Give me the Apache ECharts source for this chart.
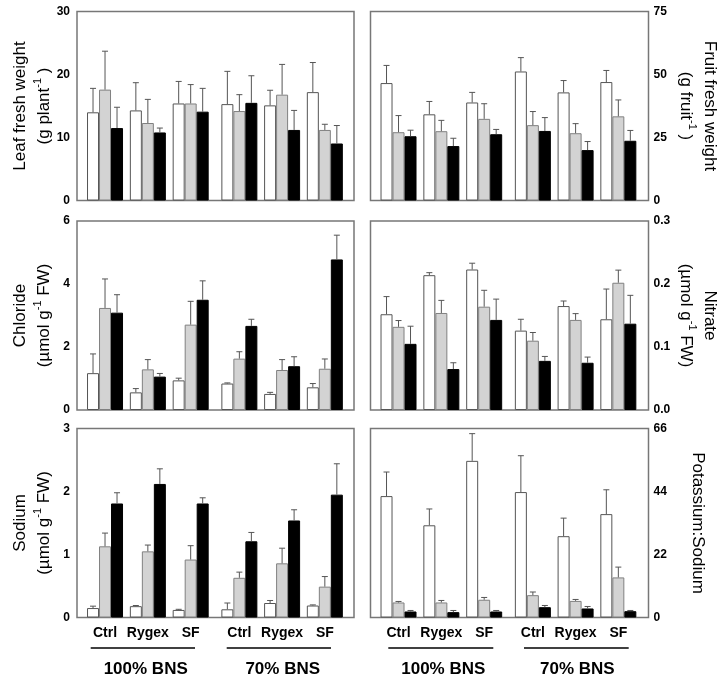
<!DOCTYPE html>
<html>
<head>
<meta charset="utf-8">
<script src="https://cdn.jsdelivr.net/npm/echarts@6/dist/echarts.min.js"></script>
<style>
  html, body { margin: 0; padding: 0; background: #fff; }
  #chart { width: 728px; height: 682px; }
</style>
</head>
<body>
<div id="chart"></div>
<script>
// categories (two nutrient solution levels x three treatments)
const groups = ['Ctrl', 'Rygex', 'SF', 'Ctrl', 'Rygex', 'SF']
const levels = ['100% BNS', '70% BNS']

// values: [white, gray, black] bars, se = upper error bar
const leafMean = [
  [14.0, 14.3, 15.4, 15.3, 15.1, 17.2],
  [17.6, 12.3, 15.4, 14.2, 16.8, 11.2],
  [11.5, 10.8, 14.1, 15.5, 11.2, 9.05]
]
const leafSe = [
  [3.8, 4.4, 3.5, 5.2, 2.4, 4.7],
  [6.1, 3.75, 3.0, 2.6, 4.8, 0.9],
  [3.3, 0.7, 3.7, 4.3, 3.1, 2.85]
]
const fruitMean = [
  [46.6, 34.2, 38.9, 51.2, 42.9, 47.0],
  [27.1, 27.5, 32.4, 29.9, 26.7, 33.4],
  [25.5, 21.6, 26.3, 27.6, 20.0, 23.7]
]
const fruitSe = [
  [7.0, 5.1, 4.0, 5.5, 4.7, 4.6],
  [6.6, 4.3, 6.0, 5.4, 3.8, 6.5],
  [2.4, 3.1, 1.9, 5.3, 3.4, 4.1]
]
const chlorideMean = [
  [1.17, 0.56, 0.94, 0.84, 0.51, 0.72],
  [3.24, 1.29, 2.71, 1.63, 1.27, 1.31],
  [3.09, 1.06, 3.5, 2.67, 1.39, 4.78]
]
const chlorideSe = [
  [0.61, 0.12, 0.07, 0.02, 0.05, 0.12],
  [0.92, 0.31, 0.74, 0.22, 0.33, 0.31],
  [0.57, 0.10, 0.6, 0.21, 0.3, 0.77]
]
const nitrateMean = [
  [0.152, 0.214, 0.223, 0.126, 0.165, 0.144],
  [0.132, 0.154, 0.164, 0.110, 0.143, 0.202],
  [0.105, 0.065, 0.143, 0.078, 0.075, 0.137]
]
const nitrateSe = [
  [0.028, 0.004, 0.010, 0.018, 0.008, 0.048],
  [0.010, 0.020, 0.026, 0.013, 0.010, 0.020],
  [0.028, 0.010, 0.033, 0.007, 0.009, 0.045]
]
const sodiumMean = [
  [0.15, 0.18, 0.12, 0.13, 0.23, 0.19],
  [1.13, 1.05, 0.92, 0.63, 0.86, 0.49],
  [1.81, 2.12, 1.81, 1.21, 1.54, 1.95]
]
const sodiumSe = [
  [0.03, 0.01, 0.01, 0.10, 0.04, 0.01],
  [0.21, 0.10, 0.22, 0.09, 0.24, 0.16],
  [0.17, 0.24, 0.09, 0.14, 0.17, 0.49]
]
const ratioMean = [
  [42.4, 32.2, 54.7, 43.8, 28.4, 36.1],
  [5.25, 5.25, 6.2, 7.8, 5.8, 14.0],
  [2.1, 1.87, 2.1, 3.6, 3.15, 2.2]
]
const ratioSe = [
  [8.4, 5.7, 9.5, 12.7, 6.3, 8.5],
  [0.35, 0.7, 0.8, 1.1, 0.5, 3.6],
  [0.35, 0.58, 0.35, 0.6, 0.7, 0.25]
]

const FONT = '"Liberation Sans", Arial, sans-serif'
const sup = '{s|-1}'
const panels = [
  { mean: leafMean, se: leafSe, max: 30, step: 10, side: 'left', row: 0,
    name: '{t|Leaf fresh weight}\n{t|(g plant}' + sup + '{t| )}' },
  { mean: fruitMean, se: fruitSe, max: 75, step: 25, side: 'right', row: 0,
    name: '{t|Fruit fresh weight}\n{t|(g fruit}' + sup + '{t| )}' },
  { mean: chlorideMean, se: chlorideSe, max: 6, step: 2, side: 'left', row: 1,
    name: '{t|Chloride}\n{t|(µmol g}' + sup + '{t| FW)}' },
  { mean: nitrateMean, se: nitrateSe, max: 0.3, step: 0.1, side: 'right', row: 1, fixed: 1,
    name: '{t|Nitrate}\n{t|(µmol g}' + sup + '{t| FW)}' },
  { mean: sodiumMean, se: sodiumSe, max: 3, step: 1, side: 'left', row: 2,
    name: '{t|Sodium}\n{t|(µmol g}' + sup + '{t| FW)}' },
  { mean: ratioMean, se: ratioSe, max: 66, step: 22, side: 'right', row: 2, gap: 37,
    name: '{t|Potassium:Sodium}' }
]

const rowTop = [11.5, 221, 428.5]
const rowH = 189
const colLeft = { left: 77, right: 370.5 }
const colW = { left: 277, right: 278 }
// the two treatment blocks inside each frame (offset from frame left, width)
const blocks = [{ dx: 6.6, w: 128.5 }, { dx: 141, w: 128.2 }]
const fills = ['#ffffff', '#d3d3d3', '#000000']
const borders = ['#555555', '#808080', '#000000']
const BAR_W = 12

function errorBar (offset) {
  return function (params, api) {
    const x = api.value(0)
    const m = api.value(1)
    const e = api.value(2)
    const p0 = api.coord([x, m])
    const p1 = api.coord([x, m + e])
    const cx = p0[0] + offset
    return {
      type: 'group',
      children: [
        { type: 'line', shape: { x1: cx, y1: p0[1], x2: cx, y2: p1[1] }, style: { stroke: '#555', lineWidth: 1 } },
        { type: 'line', shape: { x1: cx - 3, y1: p1[1], x2: cx + 3, y2: p1[1] }, style: { stroke: '#555', lineWidth: 1 } }
      ]
    }
  }
}

const grid = []
const xAxis = []
const yAxis = []
const series = []
const graphic = []

panels.forEach((p) => {
  const top = rowTop[p.row]
  const left = colLeft[p.side]
  const w = colW[p.side]
  const right = p.side === 'right'
  // frame with the labelled y axis
  const fi = grid.length
  grid.push({ left: left, top: top, width: w, height: rowH, show: true, borderColor: '#777', borderWidth: 1.5, backgroundColor: 'transparent', outerBoundsMode: 'none' })
  xAxis.push({ gridIndex: fi, type: 'value', show: false, min: 0, max: 1 })
  yAxis.push({
    gridIndex: fi,
    type: 'value',
    position: p.side,
    min: 0,
    max: p.max,
    interval: p.step,
    axisLine: { show: false },
    axisTick: { show: false },
    splitLine: { show: false },
    axisLabel: {
      margin: right ? 5 : 7,
      color: '#000',
      fontSize: 12,
      fontWeight: 'bold',
      fontFamily: FONT,
      formatter: p.fixed ? v => v.toFixed(p.fixed) : null
    },
    name: p.name,
    nameLocation: 'middle',
    nameRotate: right ? -90 : 90,
    nameGap: p.gap || (right ? 25 : 21),
    nameTextStyle: {
      rich: {
        t: { fontSize: 17, lineHeight: 24, color: '#000', fontFamily: FONT },
        s: { fontSize: 11, verticalAlign: 'top', color: '#000', fontFamily: FONT }
      }
    }
  })

  // one bar grid per nutrient-solution level
  blocks.forEach((b, h) => {
    const bi = grid.length
    const from = h * 3
    grid.push({ left: left + b.dx, top: top, width: b.w, height: rowH, show: false, outerBoundsMode: 'none' })
    xAxis.push({
      gridIndex: bi,
      type: 'category',
      data: groups.slice(from, from + 3),
      axisLine: { show: false },
      axisTick: { show: false },
      axisLabel: { show: p.row === 2, interval: 0, margin: 9, color: '#000', fontSize: 14, fontWeight: 'bold', fontFamily: FONT }
    })
    yAxis.push({ gridIndex: bi, type: 'value', min: 0, max: p.max, show: false })

    p.mean.forEach((vals, k) => {
      series.push({
        type: 'bar',
        xAxisIndex: bi,
        yAxisIndex: bi,
        data: vals.slice(from, from + 3),
        barWidth: BAR_W,
        barGap: '0%',
        itemStyle: { color: fills[k], borderColor: borders[k], borderWidth: 1 }
      })
    })
    p.mean.forEach((vals, k) => {
      const se = p.se[k]
      series.push({
        type: 'custom',
        xAxisIndex: bi,
        yAxisIndex: bi,
        z: 5,
        renderItem: errorBar((k - 1) * BAR_W),
        data: vals.slice(from, from + 3).map((v, j) => [j, v, se[from + j]])
      })
    })
  })
})

// group brackets under the bottom row
const brackets = [
  { x1: 90.7, x2: 195, tx: 145.7 }, { x1: 226.7, x2: 331, tx: 282.7 },
  { x1: 388.3, x2: 493.3, tx: 443.3 }, { x1: 524, x2: 628.7, tx: 577.3 }
]
brackets.forEach((b, i) => {
  graphic.push({ type: 'line', shape: { x1: b.x1, y1: 648, x2: b.x2, y2: 648 }, style: { stroke: '#000', lineWidth: 1.5 } })
  graphic.push({
    type: 'text', x: b.tx, y: 669,
    style: { text: levels[i % 2], textAlign: 'center', textVerticalAlign: 'middle', font: 'bold 17px ' + FONT, fill: '#000' }
  })
})

const myChart = echarts.init(document.getElementById('chart'), null, { renderer: 'canvas' })
myChart.setOption({
  animation: false,
  backgroundColor: '#fff',
  grid: grid,
  xAxis: xAxis,
  yAxis: yAxis,
  series: series,
  graphic: graphic
})
</script>
</body>
</html>
